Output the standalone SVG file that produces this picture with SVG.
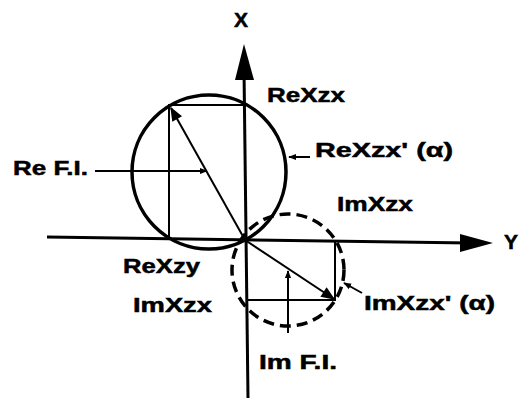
<svg xmlns="http://www.w3.org/2000/svg" width="519" height="401" viewBox="0 0 519 401">
<defs>
<style>
.t{font-family:"Liberation Sans",Arial,sans-serif;font-weight:bold;font-size:21px;fill:#000;stroke:#000;stroke-width:0.5}
.ax{stroke:#000;stroke-width:3;fill:none}
.thin{stroke:#000;stroke-width:2;fill:none}
.circ{stroke:#000;stroke-width:3.5;fill:none}
</style>
<marker id="ah" viewBox="0 0 10 10" refX="9" refY="5" markerWidth="8" markerHeight="8" markerUnits="userSpaceOnUse" orient="auto"><path d="M0,1 L10,5 L0,9 Z" fill="#000"/></marker>
<marker id="ahb" viewBox="0 0 10 10" refX="9" refY="5" markerWidth="16" markerHeight="14" markerUnits="userSpaceOnUse" orient="auto"><path d="M0,1 L10,5 L0,9 Z" fill="#000"/></marker>
</defs>
<rect width="519" height="401" fill="#fff"/>
<g id="axes">
<line class="ax" x1="244" y1="70" x2="248" y2="398"/>
<polygon points="244,44 254,80 235,80" fill="#000"/>
<line class="ax" x1="47" y1="237" x2="470" y2="243"/>
<polygon points="493,243 460,234 460,252" fill="#000"/>
</g>
<g id="re-circle">
<circle class="circ" cx="209" cy="172" r="77"/>
</g>
<g id="im-circle">
<circle class="circ" cx="288" cy="270" r="56" stroke-dasharray="11,6"/>
</g>
<g id="connectors">
<polyline class="thin" points="169,238 169,105 244,105"/>
<line class="thin" x1="245" y1="240" x2="171" y2="108" marker-end="url(#ahb)"/>
<line class="thin" x1="95" y1="171" x2="207" y2="171" marker-end="url(#ah)"/>
<polyline class="thin" points="335,242 335,300 246,300"/>
<line class="thin" x1="245" y1="240" x2="334" y2="299" marker-end="url(#ahb)"/>
<line class="thin" x1="288" y1="333" x2="288" y2="271" marker-end="url(#ah)"/>
<line class="thin" x1="310" y1="157" x2="289" y2="157" marker-end="url(#ah)"/>
<line class="thin" x1="362" y1="293" x2="344" y2="283" marker-end="url(#ah)"/>
</g>
<g id="labels">
<text class="t" x="241" y="27" text-anchor="middle">X</text>
<text class="t" x="504" y="249">Y</text>
<text class="t" x="267" y="102" textLength="78" lengthAdjust="spacingAndGlyphs">ReXzx</text>
<text class="t" x="315" y="157" textLength="138" lengthAdjust="spacingAndGlyphs">ReXzx' (α)</text>
<text class="t" x="337" y="211" textLength="76" lengthAdjust="spacingAndGlyphs">ImXzx</text>
<text class="t" x="13" y="175" textLength="75" lengthAdjust="spacingAndGlyphs">Re F.I.</text>
<text class="t" x="123" y="273" textLength="77" lengthAdjust="spacingAndGlyphs">ReXzy</text>
<text class="t" x="133" y="312" textLength="79" lengthAdjust="spacingAndGlyphs">ImXzx</text>
<text class="t" x="364" y="310" textLength="131" lengthAdjust="spacingAndGlyphs">ImXzx' (α)</text>
<text class="t" x="259" y="369" textLength="78" lengthAdjust="spacingAndGlyphs">Im F.I.</text>
</g>
</svg>
